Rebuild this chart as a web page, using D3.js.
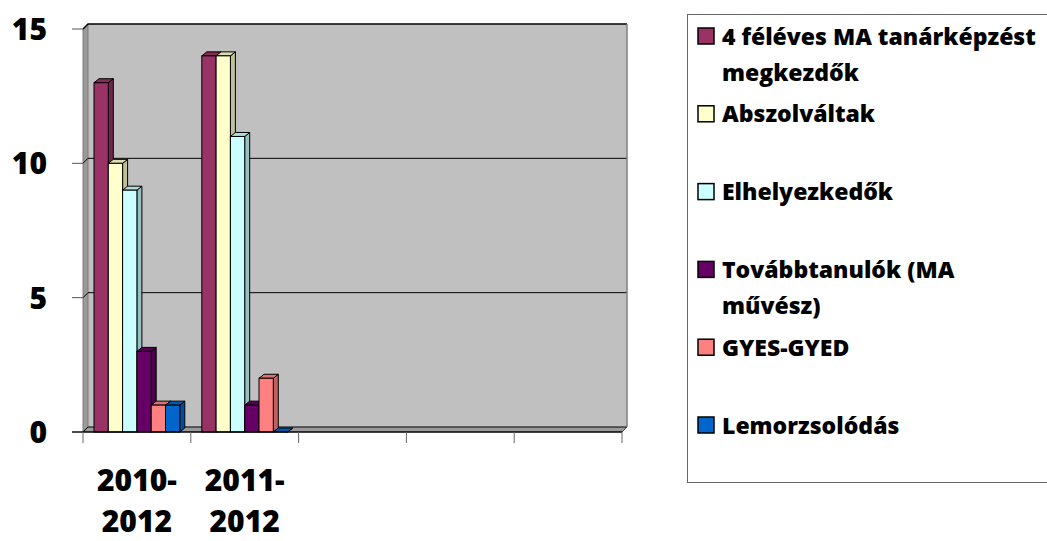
<!DOCTYPE html>
<html>
<head>
<meta charset="utf-8">
<script src="https://cdn.jsdelivr.net/npm/d3@7"></script>
<style>
  body { margin: 0; background: #fff; }
  text { font-family: "Open Sans", Lato, sans-serif; font-weight: 800; fill: #000; }
</style>
</head>
<body>
<div id="chart"></div>
<script>
var categories = ["2010-\n2012", "2011-\n2012", "", "", ""];
var seriesNames = ["4 féléves MA tanárképzést\nmegkezdők", "Abszolváltak", "Elhelyezkedők",
                   "Továbbtanulók (MA\nművész)", "GYES-GYED", "Lemorzsolódás"];
var seriesColors = ["#993366", "#FFFFCC", "#CCFFFF", "#660066", "#FF8080", "#0066CC"];
var values2010 = [13, 10, 9, 3, 1, 1];
var values2011 = [14, 14, 11, 1, 2, 0];
var yTicks = [0, 5, 10, 15];

var table = [values2010, values2011, [], [], []];

var width = 1047, height = 541;
var depth = 5;      // wall depth (oblique offset)
var barDx = 5, barDy = 4;

var svg = d3.select("#chart").append("svg")
    .attr("width", width)
    .attr("height", height);

var x = d3.scaleBand()
    .domain(d3.range(categories.length))
    .range([83, 622]);

var xs = d3.scaleBand()
    .domain(d3.range(seriesNames.length))
    .range([11, x.bandwidth() - 11]);

var y = d3.scaleLinear()
    .domain([0, 15])
    .range([432, 29]);

var x0 = x.range()[0], x1 = x.range()[1];
var yTop = y(15), yBot = y(0);

function pts(a) { return a.map(function(p) { return p.join(","); }).join(" "); }

// back wall
svg.append("rect")
    .attr("x", x0 + depth).attr("y", yTop - depth)
    .attr("width", x1 - x0).attr("height", yBot - yTop)
    .attr("fill", "#C0C0C0");

// side wall
svg.append("polygon")
    .attr("points", pts([[x0, yBot], [x0, yTop], [x0 + depth, yTop - depth], [x0 + depth, yBot - depth]]))
    .attr("fill", "#9a9a9a")
    .attr("stroke", "#7a7a7a").attr("stroke-width", 1);

// floor
svg.append("polygon")
    .attr("points", pts([[x0, yBot], [x1, yBot], [x1 + depth, yBot - depth], [x0 + depth, yBot - depth]]))
    .attr("fill", "#9a9a9a");

// gridlines
yTicks.forEach(function(t) {
  svg.append("polyline")
      .attr("points", pts([[x0, y(t)], [x0 + depth, y(t) - depth], [x1 + depth, y(t) - depth]]))
      .attr("fill", "none")
      .attr("stroke", "#000")
      .attr("stroke-width", t == 15 ? 1.5 : 1);
});

// right edge of back wall
svg.append("line")
    .attr("x1", x1 + depth).attr("x2", x1 + depth)
    .attr("y1", yTop - depth).attr("y2", yBot - depth)
    .attr("stroke", "#808080").attr("stroke-width", 1.5);
svg.append("line")
    .attr("x1", x1).attr("y1", yBot)
    .attr("x2", x1 + depth).attr("y2", yBot - depth)
    .attr("stroke", "#404040");

// bars
categories.forEach(function(c, ci) {
  var vals = table[ci];
  vals.forEach(function(v, si) {
    var bx = x(ci) + xs(si), bw = xs.bandwidth();
    var by = y(v), base = y(0);
    var g = svg.append("g");
    var col = d3.color(seriesColors[si]);
    // side face
    g.append("polygon")
        .attr("points", pts([[bx + bw, base], [bx + bw, by], [bx + bw + barDx, by - barDy], [bx + bw + barDx, base - barDy]]))
        .attr("fill", col.darker(0.8))
        .attr("stroke", "#000").attr("stroke-width", 1);
    // top face
    g.append("polygon")
        .attr("points", pts([[bx, by], [bx + bw, by], [bx + bw + barDx, by - barDy], [bx + barDx, by - barDy]]))
        .attr("fill", col.darker(0.4))
        .attr("stroke", "#000").attr("stroke-width", 1);
    // front face
    if (v > 0) {
      g.append("rect")
          .attr("x", bx).attr("y", by)
          .attr("width", bw).attr("height", base - by)
          .attr("fill", seriesColors[si])
          .attr("stroke", "#000").attr("stroke-width", 1);
    }
  });
});

// front axis line
svg.append("line")
    .attr("x1", x0 - 11).attr("x2", x1)
    .attr("y1", yBot).attr("y2", yBot)
    .attr("stroke", "#000").attr("stroke-width", 1.5);

// y ticks and labels
yTicks.forEach(function(t) {
  svg.append("line")
      .attr("x1", x0 - 11).attr("x2", x0)
      .attr("y1", y(t)).attr("y2", y(t))
      .attr("stroke", "#555");
  svg.append("text")
      .attr("x", 47).attr("y", y(t) + 11)
      .attr("text-anchor", "end")
      .style("font-size", "30px")
      .text(t);
});

// x ticks
d3.range(categories.length + 1).forEach(function(i) {
  var tx = i < categories.length ? x(i) : x1;
  svg.append("line")
      .attr("x1", tx).attr("x2", tx)
      .attr("y1", yBot).attr("y2", yBot + 11)
      .attr("stroke", "#666");
});

// category labels
categories.forEach(function(c, ci) {
  if (!c) return;
  var t = svg.append("text")
      .attr("text-anchor", "middle")
      .style("font-size", "30px");
  c.split("\n").forEach(function(p, k) {
    t.append("tspan")
        .attr("x", x(ci) + x.bandwidth() / 2)
        .attr("y", 491 + k * 41)
        .text(p);
  });
});

// legend
svg.append("rect")
    .attr("x", 687.5).attr("y", 14.5)
    .attr("width", 420).attr("height", 468)
    .attr("fill", "#fff")
    .attr("stroke", "#666");

var ly = d3.scaleLinear().domain([0, seriesNames.length - 1]).range([36, 425]);

seriesNames.forEach(function(name, si) {
  var cy = ly(si);
  svg.append("rect")
      .attr("x", 698).attr("y", cy - 8)
      .attr("width", 16).attr("height", 16)
      .attr("fill", seriesColors[si])
      .attr("stroke", "#000").attr("stroke-width", 1.5);
  var t = svg.append("text")
      .style("font-size", "23px");
  name.split("\n").forEach(function(line, k) {
    t.append("tspan")
        .attr("x", 722)
        .attr("y", cy + 8.5 + k * 36.5)
        .text(line);
  });
});
</script>
</body>
</html>
